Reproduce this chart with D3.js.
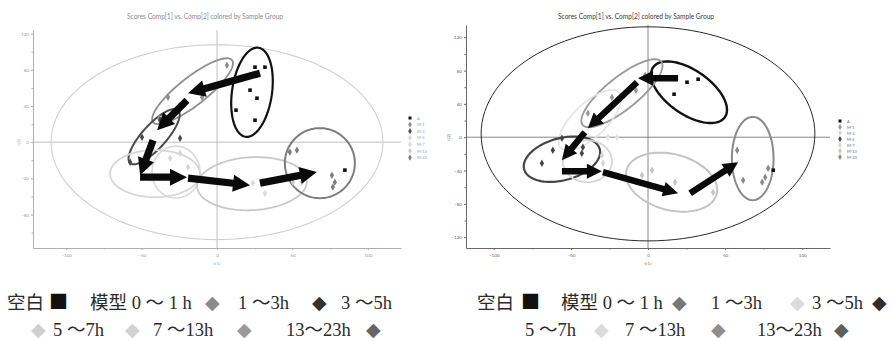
<!DOCTYPE html>
<html>
<head>
<meta charset="utf-8">
<script src="https://cdn.jsdelivr.net/npm/d3@7"></script>
<style>
  body { margin: 0; background: #fff; }
  svg { display: block; }
</style>
</head>
<body>
<svg id="chart" width="891" height="341"></svg>
<script>
// ---------- data ----------
const groups = ["A", "M-1", "M-3", "M-5", "M-7", "M-13", "M-23"];
const chartTitle = "Scores Comp[1] vs. Comp[2] colored by Sample Group";
const xTitle = "t[1]";
const yTitle = "t[2]";
const xTicks = [-100, -50, 0, 50, 100];
const xMinorTicks = [-75, -25, 25, 75];
const yTicksLeft = [120, 80, 40, 0, -40, -80];
const yTicksRight = [120, 80, 40, 0, -40, -80, -120];
const yMinorTicks = [100, 60, 20, -20, -60, -100];

// score points: [group, t1, t2]
const scoresLeft = [
  ["A", 25.2, 82.9], ["A", 31.8, 82.9], ["A", 21.9, 57.5], ["A", 26.5, 48.6],
  ["A", 12.6, 35.4], ["A", 25.2, 24.3], ["A", 84.8, -30.9],
  ["M-1", 6.6, 85.0], ["M-1", -32.5, 49.7], ["M-1", -9.9, 49.7], ["M-1", -38.4, 26.5],
  ["M-3", -49.7, 5.5], ["M-3", -24.5, 4.4], ["M-3", -57.6, -22.1], ["M-3", -37.7, 24.3],
  ["M-5", -31.1, -17.7], ["M-5", -19.2, -27.6], ["M-5", -24.5, -12.2], ["M-5", -44.4, -39.8],
  ["M-7", 23.8, -45.3], ["M-7", 31.8, -56.4],
  ["M-13", 50.3, -44.2], ["M-13", 56.3, -44.2],
  ["M-23", 48.3, -11.0], ["M-23", 53.0, -8.8], ["M-23", 76.2, -36.5],
  ["M-23", 78.1, -44.2], ["M-23", 76.8, -49.7]
];
const scoresRight = [
  ["A", 4.5, 72.0], ["A", 9.7, 70.8], ["A", 14.3, 70.8], ["A", 25.3, 66.0],
  ["A", 32.5, 69.6], ["A", 16.9, 51.6], ["A", 81.2, -39.6],
  ["M-1", -7.8, 56.4], ["M-1", -23.4, 48.0], ["M-1", -39.0, 28.8], ["M-1", -1.9, 74.4],
  ["M-3", -26.0, 0.0], ["M-3", -20.1, 0.0],
  ["M-5", -68.8, -31.2], ["M-5", -61.7, -15.6], ["M-5", -55.8, -1.2],
  ["M-5", -42.9, -19.2], ["M-5", -42.2, -12.0],
  ["M-7", -29.9, -21.6], ["M-7", -29.2, -31.2],
  ["M-13", -3.9, -45.6], ["M-13", 2.6, -39.6], ["M-13", 17.5, -54.0], ["M-13", 42.2, -66.0],
  ["M-23", 57.8, -15.6], ["M-23", 61.7, -51.6], ["M-23", 74.0, -54.0],
  ["M-23", 76.0, -48.0], ["M-23", 77.9, -37.2]
];

// confidence ellipses: [group, centre t1, centre t2, semi-axis 1 (dt1, dt2), semi-axis 2 (dt1, dt2)]
const ellipsesLeft = [
  ["T2", 0, 0, 110.0, 0, 0, 107.7],
  ["A", 23.2, 55.2, 4.3, 49.2, 13.1, -3.2],
  ["M-1", -16.2, 56.4, 26.2, 34.3, 5.7, -12.2],
  ["M-3", -41.7, 6.1, 15.9, 29.3, 5.9, -8.8],
  ["M-5", -41.1, -34.8, 29.8, 0, 0, 26.0],
  ["M-7", -27.2, -33.1, 15.9, 0, 0, 28.7],
  ["M-13", 23.2, -45.9, 36.4, 2.5, 0, 29.3],
  ["M-23", 68.2, -23.2, 23.2, 0, 0, 38.7]
];
const ellipsesRight = [
  ["T2", 0, 4.0, 108.2, 0, 0, 128.5],
  ["A", 26.6, 54.0, 23.2, -30.0, -8.2, -21.6],
  ["M-1", -16.9, 52.8, 25.5, 38.0, 6.6, -14.9],
  ["M-3", -37.7, 20.4, 18.4, 33.9, 8.3, -13.0],
  ["M-5", -55.8, -26.4, 24.5, 12.1, 3.5, -24.4],
  ["M-7", -39.3, -28.8, 15.9, 0, 0, 25.2],
  ["M-13", 15.3, -54.0, 29.2, -14.4, -4.7, -32.4],
  ["M-23", 67.9, -25.6, 13.5, 0, 0, 50.0]
];

// trajectory arrows: [from t1, from t2, to t1, to t2]
const arrowsLeft = [
  [28.5, 76.2, -19.2, 54.1],
  [-19.9, 46.4, -39.7, 13.3],
  [-42.4, 2.2, -51.0, -36.5],
  [-51.0, -38.7, -19.9, -38.7],
  [-19.2, -39.8, 21.9, -47.5],
  [28.5, -45.3, 66.2, -33.1]
];
const arrowsRight = [
  [19.5, 70.8, -6.5, 70.8],
  [-7.1, 66.0, -39.0, 10.8],
  [-40.9, 6.0, -55.8, -27.6],
  [-55.8, -40.8, -29.9, -40.8],
  [-29.2, -42.0, 19.5, -67.2],
  [27.3, -67.2, 58.4, -30.0]
];

// caption rows: [text, marker group or null]
const captionLeft = [
  [["空白", null], ["■", "A"], ["模型 0 ～ 1 h", null], ["◆", "M-1"], ["1 ～3h", null], ["◆", "M-3"], ["3 ～5h", null]],
  [["◆", "M-5"], ["5 ～7h", null], ["◆", "M-7"], ["7 ～13h", null], ["◆", "M-13"], ["13～23h", null], ["◆", "M-23"]]
];
const captionRight = [
  [["空白", null], ["■", "A"], ["模型 0 ～ 1 h", null], ["◆", "M-1"], ["1 ～3h", null], ["◆", "M-3"], ["3 ～5h", null], ["◆", "M-5"]],
  [["5 ～7h", null], ["◆", "M-7"], ["7 ～13h", null], ["◆", "M-13"], ["13～23h", null], ["◆", "M-23"]]
];

// ---------- layout & style ----------
const panels = [
  {
    scores: scoresLeft, ellipses: ellipsesLeft, arrows: arrowsLeft, yTicks: yTicksLeft,
    xRange: [33, 401], xDomain: [-122, 122], yRange: [248, 30], yDomain: [-117, 124],
    titleX: 205, titleColor: "#8a8a8a", axisColor: "#b0b0b0", labelColor: "#9a9a9a",
    yTitleX: 20, legendX: 410, legendY: 118, legendStep: 6.6,
    colors: { "T2": "#cfcfcf", "A": "#111", "M-1": "#8e8e8e", "M-3": "#4a4a4a", "M-5": "#d6d6d6",
              "M-7": "#d9d9d9", "M-13": "#c8c8c8", "M-23": "#7d7d7d" },
    ellipseWidth: { "T2": 1.1, "A": 2.2, "M-1": 1.8, "M-3": 2, "M-5": 1.8, "M-7": 1.6, "M-13": 1.8, "M-23": 2 },
    arrow: { shaft: 3.6, headLen: 17, headHalf: 8.5 },
    caption: captionLeft, captionX: [[7, 49, 90, 205, 238, 312, 341], [31, 53, 125, 153, 237, 286, 366]],
    captionMarks: { "A": "#111", "M-1": "#8a8a8a", "M-3": "#333", "M-5": "#cfcfcf", "M-7": "#d2d2d2", "M-13": "#9a9a9a", "M-23": "#666" }
  },
  {
    scores: scoresRight, ellipses: ellipsesRight, arrows: arrowsRight, yTicks: yTicksRight,
    xRange: [466, 830], xDomain: [-118, 118], yRange: [248, 25], yDomain: [-133, 134.7],
    titleX: 636, titleColor: "#3a3a3a", axisColor: "#6a6a6a", labelColor: "#666",
    yTitleX: 450, legendX: 840, legendY: 121, legendStep: 6,
    colors: { "T2": "#2a2a2a", "A": "#111", "M-1": "#999", "M-3": "#e2e2e2", "M-5": "#444",
              "M-7": "#d6d6d6", "M-13": "#c4c4c4", "M-23": "#8a8a8a" },
    ellipseWidth: { "T2": 1, "A": 2.4, "M-1": 1.8, "M-3": 1.5, "M-5": 2.2, "M-7": 1.8, "M-13": 2, "M-23": 2 },
    arrow: { shaft: 3.2, headLen: 15, headHalf: 7.5 },
    caption: captionRight, captionX: [[477, 521, 561, 672, 711, 790, 812, 872], [525, 594, 625, 711, 757, 834]],
    captionMarks: { "A": "#111", "M-1": "#777", "M-3": "#dadada", "M-5": "#2e2e2e", "M-7": "#dadada", "M-13": "#8e8e8e", "M-23": "#5e5e5e" }
  }
];

const svg = d3.select("#chart");
const chartFont = "Lato, 'Open Sans', sans-serif";
const captionFont = "'Liberation Serif', 'Noto Sans CJK SC', serif";
const markerFont = { "■": ["'Noto Sans CJK SC'", 19], "◆": ["'DejaVu Sans'", 19] };

panels.forEach(p => {
  const x = d3.scaleLinear().domain(p.xDomain).range(p.xRange);
  const y = d3.scaleLinear().domain(p.yDomain).range(p.yRange);
  const g = svg.append("g");

  // title
  g.append("text").attr("x", p.titleX).attr("y", 19).attr("text-anchor", "middle")
    .attr("font-family", chartFont).attr("font-size", 6.6).attr("fill", p.titleColor)
    .text(chartTitle);

  // zero lines
  g.append("line").attr("x1", p.xRange[0]).attr("x2", p.xRange[1]).attr("y1", y(0)).attr("y2", y(0))
    .attr("stroke", p.axisColor).attr("stroke-width", 0.8);
  g.append("line").attr("x1", x(0)).attr("x2", x(0)).attr("y1", p.yRange[1]).attr("y2", p.yRange[0])
    .attr("stroke", p.axisColor).attr("stroke-width", 0.8);

  // axes
  const styleAxis = sel => {
    sel.select(".domain").attr("stroke", p.axisColor).attr("stroke-width", 1);
    sel.selectAll(".tick line").attr("stroke", p.axisColor);
    sel.selectAll("text").attr("fill", p.labelColor).attr("font-family", chartFont).attr("font-size", 4.6);
  };
  g.append("g").attr("transform", `translate(0,${p.yRange[0]})`)
    .call(d3.axisBottom(x).tickValues(xTicks).tickSize(2).tickPadding(4).tickSizeOuter(0))
    .call(styleAxis);
  g.append("g").attr("transform", `translate(0,${p.yRange[0]})`)
    .call(d3.axisBottom(x).tickValues(xMinorTicks).tickSize(1.5).tickFormat("").tickSizeOuter(0))
    .call(styleAxis).select(".domain").remove();
  g.append("g").attr("transform", `translate(${p.xRange[0]},0)`)
    .call(d3.axisLeft(y).tickValues(p.yTicks).tickSize(2).tickPadding(2).tickSizeOuter(0))
    .call(styleAxis);
  g.append("g").attr("transform", `translate(${p.xRange[0]},0)`)
    .call(d3.axisLeft(y).tickValues(yMinorTicks).tickSize(1.5).tickFormat("").tickSizeOuter(0))
    .call(styleAxis).select(".domain").remove();

  // axis titles
  g.append("text").attr("x", x(0)).attr("y", 265).attr("text-anchor", "middle")
    .attr("font-family", chartFont).attr("font-size", 4.6).attr("fill", p.labelColor).text(xTitle);
  g.append("text").attr("transform", `translate(${p.yTitleX},${y(0)}) rotate(-90)`)
    .attr("text-anchor", "middle").attr("font-family", chartFont).attr("font-size", 4.6)
    .attr("fill", p.labelColor).text(yTitle);

  // ellipses
  const angles = d3.range(0, 2 * Math.PI, Math.PI / 60);
  const line = d3.line().curve(d3.curveLinearClosed);
  g.append("g").selectAll("path").data(p.ellipses).join("path")
    .attr("d", ([, cx, cy, ax, ay, bx, by]) => line(angles.map(t => [
      x(cx + ax * Math.cos(t) + bx * Math.sin(t)),
      y(cy + ay * Math.cos(t) + by * Math.sin(t))
    ])))
    .attr("fill", "none")
    .attr("stroke", d => p.colors[d[0]])
    .attr("stroke-width", d => p.ellipseWidth[d[0]]);

  // points
  const square = d3.symbol().type(d3.symbolSquare).size(13);
  const diamond = d3.symbol().type(d3.symbolDiamond).size(16);
  g.append("g").selectAll("path").data(p.scores).join("path")
    .attr("transform", d => `translate(${x(d[1])},${y(d[2])})`)
    .attr("d", d => d[0] === "A" ? square() : diamond())
    .attr("fill", d => p.colors[d[0]]);

  // arrows
  const a = p.arrow;
  g.append("g").selectAll("path").data(p.arrows).join("path")
    .attr("d", ([x1, y1, x2, y2]) => {
      const p1 = [x(x1), y(y1)], p2 = [x(x2), y(y2)];
      const len = Math.hypot(p2[0] - p1[0], p2[1] - p1[1]);
      const u = [(p2[0] - p1[0]) / len, (p2[1] - p1[1]) / len];
      const n = [-u[1], u[0]];
      const b = [p2[0] - u[0] * a.headLen, p2[1] - u[1] * a.headLen];
      const pt = (o, k) => [o[0] + n[0] * k, o[1] + n[1] * k];
      return "M" + [pt(p1, a.shaft), pt(b, a.shaft), pt(b, a.headHalf), p2,
                    pt(b, -a.headHalf), pt(b, -a.shaft), pt(p1, -a.shaft)].join("L") + "Z";
    })
    .attr("fill", "#0a0a0a");

  // in-plot group legend
  const lg = g.append("g");
  groups.forEach((grp, i) => {
    const ly = p.legendY + i * p.legendStep;
    lg.append("path").attr("transform", `translate(${p.legendX},${ly})`)
      .attr("d", grp === "A" ? d3.symbol().type(d3.symbolSquare).size(9)() : d3.symbol().type(d3.symbolDiamond).size(11)())
      .attr("fill", p.colors[grp] === "#e2e2e2" ? "#d5d5d5" : p.colors[grp]);
    lg.append("text").attr("x", p.legendX + 7).attr("y", ly + 1.5)
      .attr("font-family", chartFont).attr("font-size", 4).attr("fill", p.labelColor).text(grp);
  });

  // caption below the plot
  const rowsY = [309, 336];
  p.caption.forEach((row, r) => {
    row.forEach(([txt, grp], j) => {
      const mf = markerFont[txt];
      g.append("text").attr("x", p.captionX[r][j]).attr("y", rowsY[r] - (txt === "◆" ? 0.5 : 0))
        .attr("font-family", mf ? mf[0] : captionFont).attr("font-size", mf ? mf[1] : 18.5)
        .attr("fill", grp ? p.captionMarks[grp] : "#2a2a2a")
        .attr("xml:space", "preserve")
        .text(txt);
    });
  });
});
</script>
</body>
</html>
